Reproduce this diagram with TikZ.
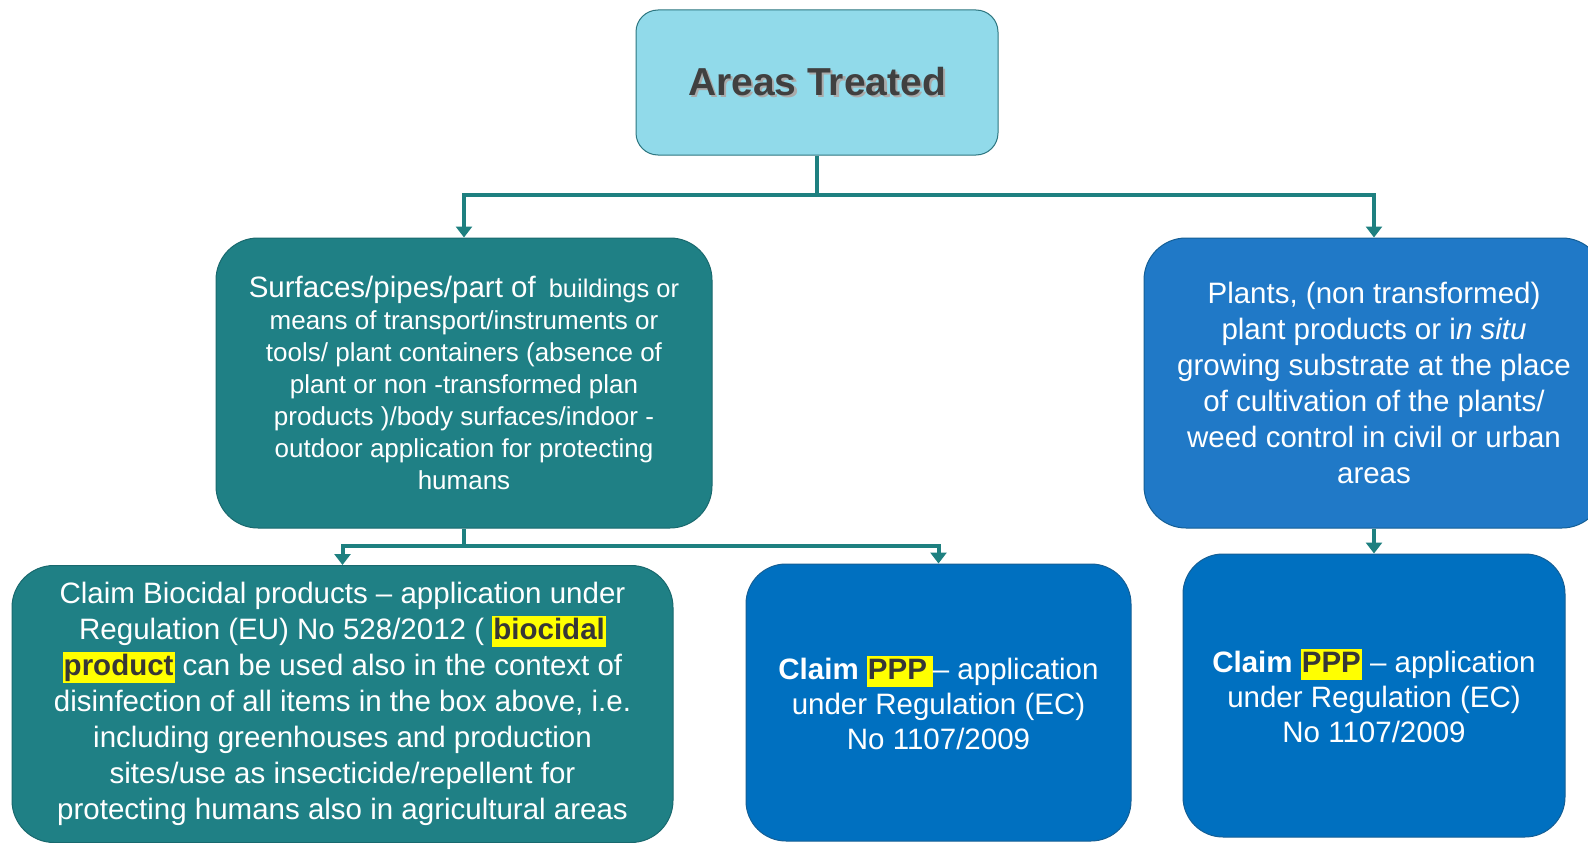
\documentclass[tikz,border=0pt]{standalone}
\usepackage{fontspec}
\setmainfont{Liberation Sans}
\usetikzlibrary{arrows.meta}
\definecolor{topfill}{RGB}{145,218,234}
\definecolor{topdraw}{RGB}{45,118,128}
\definecolor{tealfill}{RGB}{31,128,133}
\definecolor{tealdraw}{RGB}{25,105,110}
\definecolor{bluemid}{RGB}{32,121,199}
\definecolor{bluebot}{RGB}{0,112,192}
\definecolor{bluedraw}{RGB}{20,95,150}
\definecolor{linecol}{RGB}{30,128,128}
\definecolor{titlecol}{RGB}{64,64,64}
\definecolor{shadowgray}{RGB}{170,170,170}
\definecolor{hlyellow}{RGB}{255,255,0}
\definecolor{hltext}{RGB}{55,55,55}
\newcommand\hlbox[1]{{\setlength\fboxsep{1pt}\colorbox{hlyellow}{\textcolor{hltext}{\bfseries\rule[-0.22em]{0pt}{0.98em}#1}}}}
\tikzset{
  boxbase/.style={rectangle, align=center, text=white, line width=1pt, inner sep=0pt},
  topbox/.style={boxbase, fill=topfill, draw=topdraw, rounded corners=22pt, text=titlecol,
    minimum width=362pt, minimum height=145pt, font=\fontsize{39}{44}\selectfont\bfseries},
  tealbox/.style={boxbase, fill=tealfill, draw=tealdraw, rounded corners=42pt},
  midblue/.style={boxbase, fill=bluemid, draw=bluedraw, rounded corners=42pt},
  botblue/.style={boxbase, fill=bluebot, draw=bluedraw, rounded corners=40pt},
  conn/.style={draw=linecol, line width=4pt},
  arr/.style={conn, -{Triangle[width=16pt,length=11pt]}},
}
\begin{document}
\begin{tikzpicture}[x=1pt,y=-1pt]
\useasboundingbox (0,0) rectangle (1588,843);
\clip (0,0) rectangle (1588,843);
\fill[white] (0,0) rectangle (1588,843);

\node[topbox] (top) at (817,82.5)
  {\rlap{\kern2.5pt\raisebox{-2.5pt}{\textcolor{shadowgray}{Areas Treated}}}Areas Treated};

\node[tealbox, minimum width=496pt, minimum height=290pt,
  font=\fontsize{26}{32}\selectfont] (surf) at (464,383)
  {{\fontsize{29.5}{32}\selectfont Surfaces/pipes/part of}\enspace{\fontsize{25.5}{32}\selectfont buildings or}\\
   means of transport/instruments or\\
   tools/ plant containers (absence of\\
   plant or non -transformed plan\\
   products )/body surfaces/indoor -\\
   outdoor application for protecting\\
   humans};

\node[midblue, minimum width=460pt, minimum height=290pt,
  font=\fontsize{29.5}{36}\selectfont] (plants) at (1374,383)
  {Plants, (non transformed)\\
   plant products or i\textit{n situ}\\
   growing substrate at the place\\
   of cultivation of the plants/\\
   weed control in civil or urban\\
   areas};

\node[tealbox, minimum width=661pt, minimum height=277pt,
  font=\fontsize{29.5}{36}\selectfont] (bio) at (342.5,704)
  {Claim Biocidal products -- application under\\
   Regulation (EU) No 528/2012 ( \hlbox{biocidal}\\
   \hlbox{product} can be used also in the context of\\
   disinfection of all items in the box above, i.e.\\
   including greenhouses and production\\
   sites/use as insecticide/repellent for\\
   protecting humans also in agricultural areas};

\node[botblue, minimum width=385pt, minimum height=277pt,
  font=\fontsize{29.5}{35}\selectfont] (ppp1) at (938.5,702.5)
  {\textbf{Claim} \hlbox{PPP\,}-- application\\
   under Regulation (EC)\\
   No 1107/2009};

\node[botblue, minimum width=382pt, minimum height=283pt,
  font=\fontsize{29.5}{35}\selectfont] (ppp2) at (1374,695.5)
  {\textbf{Claim} \hlbox{PPP} -- application\\
   under Regulation (EC)\\
   No 1107/2009};

\coordinate (j1) at (817,195);
\coordinate (j2) at (464,546);

\draw[conn] (top.south) -- (j1);
\draw[arr] (j1) -| (surf.north);
\draw[arr] (j1) -| (plants.north);
\draw[conn] (surf.south) -- (j2);
\draw[arr] (j2) -| (bio.north);
\draw[arr] (j2) -| (ppp1.north);
\draw[arr] (plants.south) -- (ppp2.north);
\end{tikzpicture}
\end{document}
